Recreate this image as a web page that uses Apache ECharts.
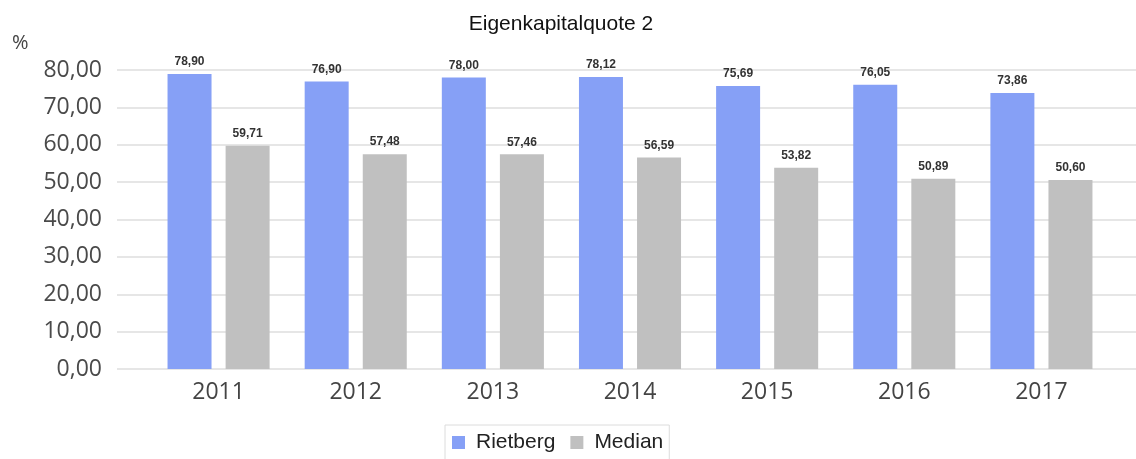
<!DOCTYPE html>
<html>
<head>
<meta charset="utf-8">
<script src="https://cdn.jsdelivr.net/npm/echarts@6/dist/echarts.min.js"></script>
<style>
  html, body { margin: 0; padding: 0; background: #fff; }
  #chart { width: 1136px; height: 459px; }
</style>
</head>
<body>
<div id="chart"></div>
<script>
// Equity ratio (Eigenkapitalquote 2), Rietberg vs. median
const years = ['2011', '2012', '2013', '2014', '2015', '2016', '2017'];
const rietberg = [78.90, 76.90, 78.00, 78.12, 75.69, 76.05, 73.86];
const median = [59.71, 57.48, 57.46, 56.59, 53.82, 50.89, 50.60];
const yTicks = [0, 10, 20, 30, 40, 50, 60, 70, 80];

const fmt = v => v.toFixed(2).replace('.', ',');
const yMin = yTicks[0], yMax = yTicks[yTicks.length - 1], yStep = yTicks[1] - yTicks[0];

const chart = echarts.init(document.getElementById('chart'), null, { renderer: 'canvas' });

const axisFont = 'Open Sans, sans-serif';
const textFont = 'Liberation Sans, Arial, sans-serif';

const valueLabel = {
  show: true,
  position: 'top',
  distance: 6,
  fontSize: 12,
  fontWeight: 'bold',
  color: '#333',
  fontFamily: textFont,
  formatter: p => fmt(p.value)
};

chart.setOption({
  animation: false,
  title: {
    text: 'Eigenkapitalquote 2',
    left: 556,
    textAlign: 'center',
    top: 9,
    textStyle: { fontSize: 21, fontWeight: 'normal', color: '#111', fontFamily: textFont }
  },
  graphic: [{
    type: 'text',
    left: 12,
    top: 33,
    style: { text: '%', fontSize: 20, fill: '#444', fontFamily: axisFont }
  }],
  legend: {
    data: ['Rietberg', 'Median'],
    left: 445,
    top: 425,
    itemWidth: 13,
    itemHeight: 13,
    itemGap: 15,
    padding: [7, 6, 8, 7],
    borderColor: '#dcdcdc',
    borderWidth: 1,
    icon: 'rect',
    textStyle: { fontSize: 21, color: '#222', fontFamily: textFont, padding: [0, 0, 0, 6] }
  },
  grid: [
    // Background grid: gridlines and value labels across the full width
    { left: 117, right: 0, top: 70, bottom: 90, containLabel: false },
    // Bar grid
    { left: 150, right: 26, top: 70, bottom: 90, containLabel: false }
  ],
  xAxis: [
    { type: 'category', gridIndex: 0, data: years, show: false },
    {
      type: 'category', gridIndex: 1, data: years,
      axisLine: { show: false },
      axisTick: { show: false },
      axisLabel: { fontSize: 23, color: '#444', margin: 12, fontFamily: axisFont }
    }
  ],
  yAxis: [
    {
      type: 'value', gridIndex: 0, min: yMin, max: yMax, interval: yStep,
      axisLine: { show: false },
      axisTick: { show: false },
      splitLine: { lineStyle: { color: '#dedede', width: 1.5 } },
      axisLabel: { fontSize: 23, color: '#4a4a4a', margin: 15, fontFamily: axisFont, formatter: v => fmt(v) }
    },
    {
      type: 'value', gridIndex: 1, min: yMin, max: yMax, interval: yStep,
      show: false
    }
  ],
  series: [
    {
      name: 'Rietberg', type: 'bar', xAxisIndex: 1, yAxisIndex: 1,
      data: rietberg, barWidth: 44, barGap: '32%',
      itemStyle: { color: '#86a0f6' },
      label: valueLabel
    },
    {
      name: 'Median', type: 'bar', xAxisIndex: 1, yAxisIndex: 1,
      data: median, barWidth: 44, barGap: '32%',
      itemStyle: { color: '#c0c0c0' },
      label: valueLabel
    }
  ]
});
</script>
</body>
</html>
